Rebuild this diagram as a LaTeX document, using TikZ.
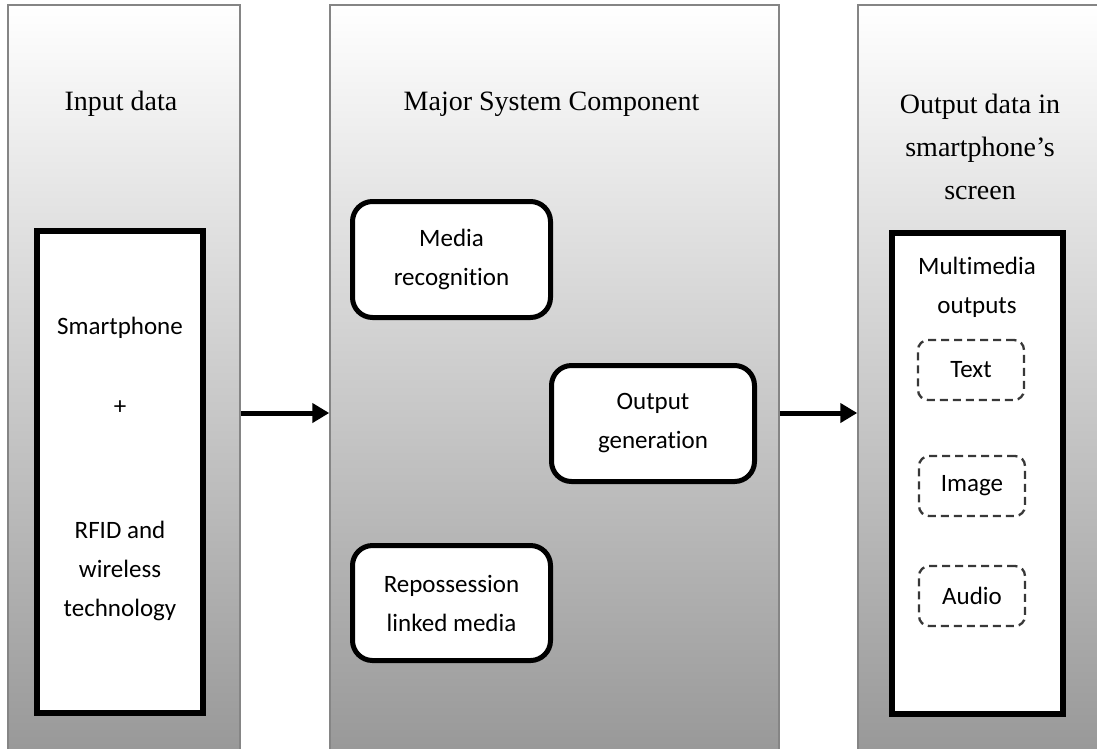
\documentclass[tikz,border=0pt]{standalone}
\usepackage{fontspec}
\setmainfont{Liberation Serif}
\newfontfamily\bodyfont[Ligatures=NoCommon]{Carlito}
\usetikzlibrary{arrows.meta}
\pgfdeclareverticalshading{panelshade}{100bp}{color(0bp)=(black!44); color(25bp)=(black!44); color(29.5bp)=(black!40); color(75bp)=(white); color(100bp)=(white)}
\tikzset{
  panel/.style={draw=black!48, line width=1.5pt, shading=panelshade, rectangle, inner sep=0pt},
  title/.style={font=\fontsize{28}{43}\selectfont, align=center, inner sep=0pt},
  body/.style={font=\bodyfont\fontsize{25}{39}\selectfont, align=center, inner sep=0pt},
  holder/.style={draw=black, fill=white, line width=6pt, rectangle, inner sep=0pt},
  roundbox/.style={draw=black, fill=white, line width=5pt, rounded corners=20pt, rectangle, align=center, inner sep=0pt, font=\bodyfont\fontsize{25}{39}\selectfont},
  dashbox/.style={draw=black!78, line width=2.3pt, dash pattern=on 8pt off 5pt, rounded corners=10pt, rectangle, inner sep=0pt, minimum width=106pt, minimum height=60pt, font=\bodyfont\fontsize{25}{39}\selectfont},
  link/.style={line width=5pt, -{Triangle[length=17pt, width=19pt]}}
}
\begin{document}
\begin{tikzpicture}[x=1pt, y=-1pt]
\useasboundingbox (0,0) rectangle (1097,748);
\clip (0,0) rectangle (1097,748);
% panels
\node[panel, minimum width=232pt, minimum height=816pt] (inp) at (124,413) {};
\node[panel, minimum width=449pt, minimum height=816pt] (mid) at (554.5,413) {};
\node[panel, minimum width=262pt, minimum height=816pt] (out) at (989,413) {};
% titles
\node[title] (t1) at (121,104) {Input data};
\node[title] (t2) at (551.5,104) {Major System Component};
\node[title] (t3) at (980,147) {Output data in\\smartphone’s\\screen};
% input holder
\node[holder, minimum width=166pt, minimum height=482pt] (inbox) at (120,472) {};
\node[body] (sp) at (120,328) {Smartphone};
\node[body] (plus) at (120,408) {+};
\node[body] (rfid) at (120,571) {RFID and\\wireless\\technology};
% middle boxes
\node[roundbox, minimum width=198pt, minimum height=116pt] (media) at (451.5,259.5) {Media\\recognition};
\node[roundbox, minimum width=203pt, minimum height=116pt] (gen) at (653,423.5) {Output\\generation};
\node[roundbox, minimum width=198pt, minimum height=115pt] (repo) at (451.5,603) {Repossession\\linked media};
% output holder
\node[holder, minimum width=171pt, minimum height=481pt] (outbox) at (977.5,473.5) {};
\node[body] (mm) at (977,287) {Multimedia\\outputs};
\node[dashbox] (txt) at (971,370) {Text};
\node[dashbox] (img) at (972,486) {Image};
\node[dashbox] (aud) at (972,596) {Audio};
% connectors
\draw[link] (inp.east) -- (mid.west);
\draw[link] (mid.east) -- (out.west);
\end{tikzpicture}
\end{document}
